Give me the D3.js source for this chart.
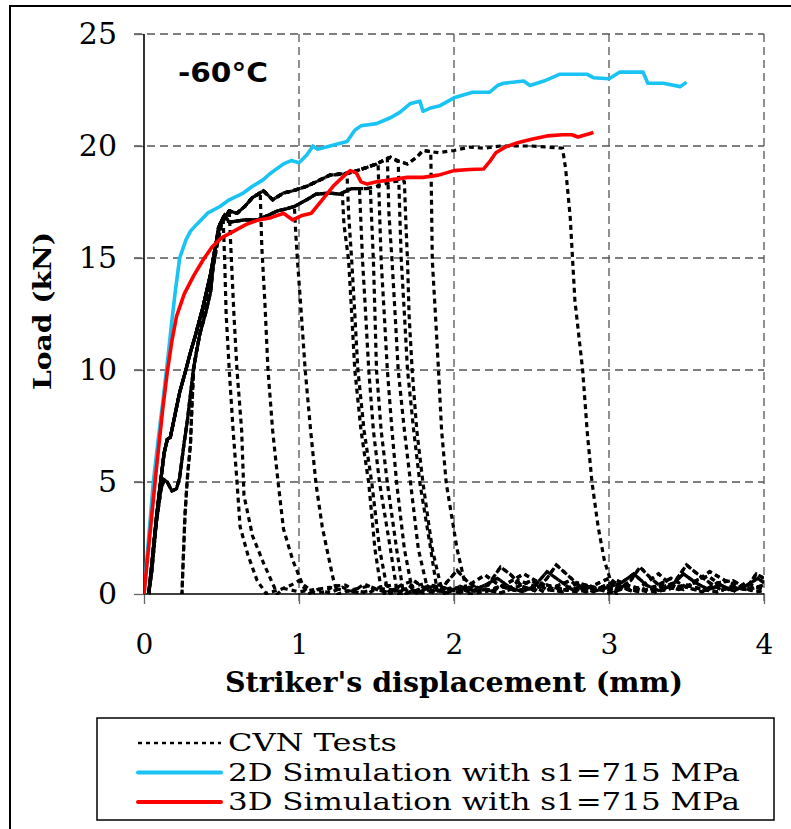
<!DOCTYPE html>
<html>
<head>
<meta charset="utf-8">
<script src="https://cdn.jsdelivr.net/npm/d3@7"></script>
<style>
  body { margin: 0; background: #fff; }
  svg { display: block; }
</style>
</head>
<body>
<div id="chart"></div>
<script>
// axis ticks
const xTicks = [0, 1, 2, 3, 4];
const yTicks = [0, 5, 10, 15, 20, 25];

// 2D and 3D simulations (mm, kN)
const sim2D = [[0,0],[0.03,2.5],[0.06,5.0],[0.09,6.8],[0.12,8.5],[0.15,10.3],[0.18,12.2],[0.2,13.4],[0.23,15.0],[0.27,15.8],[0.3,16.2],[0.34,16.5],[0.41,17.0],[0.49,17.3],[0.55,17.6],[0.64,17.9],[0.7,18.2],[0.77,18.5],[0.81,18.75],[0.86,19.0],[0.9,19.2],[0.95,19.35],[1.0,19.25],[1.05,19.6],[1.09,20.0],[1.12,19.85],[1.2,20.0],[1.31,20.2],[1.36,20.7],[1.4,20.9],[1.5,21.0],[1.59,21.26],[1.65,21.5],[1.72,21.9],[1.78,22.0],[1.8,21.55],[1.85,21.7],[1.91,21.8],[2.0,22.15],[2.12,22.4],[2.23,22.4],[2.28,22.7],[2.32,22.8],[2.45,22.9],[2.49,22.7],[2.58,22.9],[2.68,23.2],[2.86,23.2],[2.9,23.05],[3.0,23.0],[3.07,23.3],[3.22,23.3],[3.25,22.8],[3.35,22.8],[3.46,22.65],[3.5,22.85]];
const sim3D = [[0,0],[0.04,2.8],[0.08,5.6],[0.12,8.2],[0.15,9.9],[0.18,11.3],[0.21,12.4],[0.26,13.4],[0.32,14.2],[0.38,14.9],[0.44,15.5],[0.5,15.9],[0.58,16.2],[0.66,16.5],[0.74,16.7],[0.82,16.8],[0.9,17.0],[0.96,16.7],[1.02,16.9],[1.08,17.0],[1.15,17.6],[1.22,18.2],[1.28,18.6],[1.33,18.9],[1.37,18.8],[1.4,18.4],[1.44,18.3],[1.5,18.4],[1.6,18.5],[1.7,18.6],[1.8,18.6],[1.9,18.7],[2.0,18.9],[2.1,18.95],[2.19,18.97],[2.23,19.3],[2.27,19.7],[2.33,19.95],[2.41,20.15],[2.5,20.3],[2.6,20.45],[2.7,20.5],[2.76,20.5],[2.8,20.4],[2.85,20.5],[2.9,20.6]];

// CVN test pieces: rising parts, plateau bands, residual tails
const riseA = [[0.03,0],[0.05,1.3],[0.08,3.4],[0.1,4.6],[0.13,6.3],[0.15,6.9],[0.17,7.0],[0.2,8.0],[0.23,9.0],[0.27,10.0],[0.3,10.8],[0.33,11.5],[0.38,12.8],[0.43,14.3],[0.46,15.5],[0.49,16.5],[0.52,16.9]];
const riseB = [[0.03,0],[0.05,1.0],[0.08,3.2],[0.11,4.7],[0.13,5.1],[0.15,5.0],[0.18,4.6],[0.21,4.7],[0.23,5.2],[0.26,6.8],[0.28,7.75],[0.32,10.1],[0.36,11.6],[0.4,12.6],[0.43,13.5],[0.45,14.9],[0.48,16.35],[0.51,16.8]];
const riseC = [[0.245,0],[0.25,1.0],[0.265,3.6],[0.28,5.2],[0.3,6.7],[0.31,8.5],[0.32,10.0],[0.34,10.9],[0.38,12.3],[0.43,14.0],[0.47,15.5],[0.5,16.5],[0.53,16.9]];
const upperBand = [[0.53,16.9],[0.55,17.1],[0.6,17.0],[0.65,17.3],[0.7,17.7],[0.77,18.0],[0.83,17.6],[0.9,17.9],[0.96,18.0],[1.05,18.2],[1.11,18.4],[1.2,18.7],[1.33,18.8],[1.44,19.05],[1.5,19.2],[1.59,19.5],[1.65,19.3],[1.7,19.2],[1.76,19.5],[1.8,19.8],[1.9,19.7],[2.0,19.8],[2.1,19.95],[2.2,19.9],[2.3,20.0],[2.5,20.0],[2.7,19.95]];
const lowerBand = [[0.55,16.6],[0.65,16.7],[0.73,16.7],[0.8,16.9],[0.86,17.1],[0.92,17.2],[0.97,17.3],[1.05,17.6],[1.11,17.85],[1.2,17.9],[1.26,17.85],[1.34,18.1],[1.44,18.1],[1.5,18.2],[1.55,18.3],[1.6,18.4],[1.67,18.45],[1.72,18.3],[1.78,18.6],[1.82,19.2],[1.85,19.6]];
const tailA = [[0.8,0.05],[0.88,0.2],[0.95,0.4],[1.0,0.6],[1.04,0.35],[1.1,0.05],[1.17,0.1],[1.22,0.35],[1.3,0.4],[1.36,0.15],[1.45,0.05],[1.52,0.3],[1.6,0.4],[1.68,0.2],[1.76,0.05],[1.85,0.3],[1.95,0.5],[2.02,1.05],[2.08,0.6],[2.15,0.25],[2.22,0.4],[2.3,1.2],[2.36,0.9],[2.44,0.35],[2.52,0.15],[2.6,0.7],[2.66,1.3],[2.74,0.8],[2.82,0.3],[2.9,0.1],[2.98,0.4],[3.06,0.2],[3.14,0.6],[3.2,1.2],[3.27,0.7],[3.34,0.3],[3.42,0.5],[3.5,1.3],[3.57,0.9],[3.65,0.5],[3.72,0.2],[3.8,0.3],[3.88,0.2],[3.95,0.9],[4.0,0.7]];
const tailB = [[0.85,0.1],[0.92,0.05],[0.98,0.2],[1.05,0.1],[1.12,0.2],[1.2,0.05],[1.28,0.3],[1.35,0.1],[1.42,0.45],[1.5,0.2],[1.58,0.05],[1.66,0.4],[1.74,0.6],[1.8,0.3],[1.88,0.1],[1.96,0.2],[2.05,0.05],[2.12,0.5],[2.2,0.85],[2.27,0.5],[2.35,0.2],[2.42,0.6],[2.5,0.4],[2.58,0.1],[2.66,0.35],[2.75,0.6],[2.83,0.2],[2.92,0.45],[3.0,0.7],[3.08,0.3],[3.16,0.1],[3.24,0.5],[3.32,0.9],[3.4,0.4],[3.48,0.2],[3.56,0.6],[3.64,0.8],[3.72,0.4],[3.8,0.1],[3.88,0.5],[3.96,0.3],[4.0,0.2]];
const tailC = [[0.8,0.0],[0.9,0.05],[1.0,0.15],[1.1,0.0],[1.2,0.1],[1.3,0.0],[1.4,0.2],[1.5,0.05],[1.6,0.1],[1.7,0.25],[1.8,0.05],[1.9,0.15],[2.0,0.3],[2.1,0.1],[2.2,0.2],[2.3,0.05],[2.4,0.3],[2.5,0.6],[2.6,0.2],[2.7,0.1],[2.8,0.5],[2.9,0.3],[3.0,0.05],[3.1,0.25],[3.2,0.1],[3.3,0.35],[3.4,0.7],[3.5,0.3],[3.6,0.1],[3.7,0.5],[3.8,0.6],[3.9,0.2],[4.0,0.4]];
const tailD = [[0.8,0.02],[0.95,0.1],[1.05,0.25],[1.15,0.1],[1.25,0.0],[1.35,0.2],[1.45,0.35],[1.55,0.1],[1.65,0.0],[1.75,0.15],[1.85,0.4],[1.95,0.2],[2.05,0.1],[2.15,0.3],[2.25,0.15],[2.35,0.5],[2.45,0.9],[2.55,0.5],[2.65,0.2],[2.75,0.3],[2.85,0.1],[2.95,0.3],[3.05,0.6],[3.15,0.3],[3.25,0.1],[3.35,0.4],[3.45,0.2],[3.55,0.5],[3.65,1.0],[3.75,0.6],[3.85,0.3],[3.95,0.1],[4.0,0.15]];
const tailE = [[0.8,0.1],[0.86,0.3],[0.92,0.15],[1.0,0.05],[1.08,0.3],[1.16,0.5],[1.24,0.2],[1.32,0.05],[1.4,0.3],[1.48,0.15],[1.56,0.4],[1.64,0.1],[1.72,0.3],[1.8,0.45],[1.88,0.2],[1.96,0.05],[2.04,0.35],[2.12,0.15],[2.2,0.4],[2.28,0.7],[2.36,0.3],[2.44,0.1],[2.52,0.35],[2.6,1.0],[2.68,0.6],[2.76,0.2],[2.84,0.4],[2.92,0.15],[3.0,0.3],[3.08,0.5],[3.16,0.9],[3.24,0.4],[3.32,0.15],[3.4,0.35],[3.48,0.9],[3.56,0.5],[3.64,0.2],[3.72,0.4],[3.8,0.15],[3.88,0.35],[3.96,0.7],[4.0,0.5]];
const tailF = [[0.8,0.15],[0.9,0.25],[1.0,0.1],[1.1,0.2],[1.2,0.3],[1.3,0.15],[1.4,0.05],[1.5,0.25],[1.6,0.2],[1.7,0.05],[1.8,0.2],[1.9,0.35],[2.0,0.15],[2.1,0.3],[2.2,0.1],[2.3,0.35],[2.4,0.15],[2.5,0.25],[2.6,0.4],[2.7,0.2],[2.8,0.1],[2.9,0.3],[3.0,0.2],[3.1,0.4],[3.2,0.25],[3.3,0.1],[3.4,0.25],[3.5,0.4],[3.6,0.2],[3.7,0.1],[3.8,0.35],[3.9,0.25],[4.0,0.3]];

// each test: which rise / band / tail it follows, and its fracture drop
const cvnTests = [
  { rise: riseA, band: upperBand, tail: tailA, drop: [[0.51,16.8],[0.52,15.0],[0.53,12.5],[0.55,10.0],[0.575,7.3],[0.6,5.0],[0.62,3.0],[0.67,1.75],[0.73,0.6],[0.79,0]] },
  { rise: riseB, band: upperBand, tail: tailF, drop: [[0.55,17.1],[0.56,15.5],[0.58,12.5],[0.6,10],[0.63,7.3],[0.645,4.4],[0.7,2.6],[0.77,1.4],[0.86,0]] },
  { rise: riseA, band: upperBand, tail: tailB, drop: [[0.75,17.9],[0.76,15.5],[0.78,13],[0.8,10],[0.83,7.3],[0.865,5.0],[0.9,2.9],[0.96,1.5],[1.03,0.3],[1.06,0]] },
  { rise: riseB, band: lowerBand, tail: tailD, drop: [[0.97,17.3],[0.98,16],[0.99,14.9],[1.015,12.5],[1.04,10],[1.075,7.3],[1.11,4.9],[1.15,3],[1.18,2],[1.22,0.7],[1.25,0]] },
  { rise: riseA, band: lowerBand, tail: tailE, drop: [[1.28,17.85],[1.29,16.5],[1.32,14.9],[1.34,12.5],[1.36,10],[1.4,7.3],[1.45,4.95],[1.49,2.0],[1.53,0.2],[1.55,0]] },
  { rise: riseC, band: upperBand, tail: tailC, drop: [[1.31,18.75],[1.32,17],[1.34,14.9],[1.36,12.5],[1.38,10],[1.42,7.3],[1.47,4.95],[1.52,2.0],[1.57,0.2],[1.59,0]] },
  { rise: riseA, band: lowerBand, tail: tailF, drop: [[1.39,18.1],[1.4,16.5],[1.41,14.9],[1.43,12.5],[1.45,10],[1.48,7.3],[1.52,4.95],[1.59,2.0],[1.63,0.2],[1.65,0]] },
  { rise: riseB, band: lowerBand, tail: tailB, drop: [[1.46,18.15],[1.47,16.5],[1.48,14.9],[1.49,12.5],[1.5,10],[1.53,7.3],[1.57,4.95],[1.63,2.0],[1.67,0.2],[1.69,0]] },
  { rise: riseA, band: upperBand, tail: tailD, drop: [[1.51,19.25],[1.52,17],[1.53,14.9],[1.55,12.5],[1.57,10],[1.6,7.3],[1.63,4.95],[1.68,2.0],[1.73,0.2],[1.75,0]] },
  { rise: riseA, band: upperBand, tail: tailE, drop: [[1.57,19.45],[1.58,17],[1.6,14.9],[1.62,12.5],[1.64,10],[1.68,7.3],[1.72,4.95],[1.77,2.0],[1.83,0.2],[1.85,0]] },
  { rise: riseB, band: upperBand, tail: tailA, drop: [[1.64,19.3],[1.65,17],[1.66,14.9],[1.68,12.5],[1.7,10],[1.74,7.3],[1.78,4.95],[1.85,2.0],[1.89,0.2],[1.91,0]] },
  { rise: riseA, band: lowerBand, tail: tailC, drop: [[1.68,18.4],[1.69,16.5],[1.7,14.9],[1.71,12.5],[1.73,10],[1.76,7.3],[1.8,4.95],[1.86,2.0],[1.92,0.2],[1.94,0]] },
  { rise: riseC, band: upperBand, tail: tailF, drop: [[1.85,19.75],[1.855,17.5],[1.86,14.9],[1.88,12.5],[1.9,10],[1.92,7.3],[1.95,4.95],[2.02,2.0],[2.08,0.2],[2.1,0]] },
  { rise: riseA, band: upperBand, tail: tailE, drop: [[2.7,19.9],[2.72,19.0],[2.75,16.8],[2.78,13.1],[2.83,10.0],[2.86,7.2],[2.89,5.0],[2.93,3.0],[2.97,1.5],[3.01,0.6],[3.03,0.2],[3.05,0]] }
];

const legendItems = [
  { label: "CVN Tests", color: "#000", width: 2.5, dash: "4,4" },
  { label: "2D Simulation with s1=715 MPa", color: "#19c3f3", width: 4, dash: null },
  { label: "3D Simulation with s1=715 MPa", color: "#ff0000", width: 4, dash: null }
];

const W = 791, H = 829;
const svg = d3.select("#chart").append("svg").attr("width", W).attr("height", H);

const x = d3.scaleLinear().domain([0, 4]).range([144, 764]);
const y = d3.scaleLinear().domain([0, 25]).range([594, 34]);

// outer frame (left and top only)
svg.append("path").attr("d", `M10,829 L10,6 L791,6`)
  .attr("fill", "none").attr("stroke", "#000").attr("stroke-width", 2);

// grid
const grid = svg.append("g").attr("stroke", "#555").attr("stroke-width", 1.3)
  .attr("stroke-dasharray", "8,5");
grid.selectAll(".gy").data(yTicks.filter(d => d > 0)).join("line")
  .attr("x1", x(0) - 10).attr("x2", x(4))
  .attr("y1", d => y(d)).attr("y2", d => y(d));
grid.selectAll(".gx").data(xTicks.filter(d => d > 0)).join("line")
  .attr("x1", d => x(d)).attr("x2", d => x(d))
  .attr("y1", y(25)).attr("y2", y(0) + 10);

// axes (labels + outer ticks)
const yAxis = svg.append("g").attr("transform", `translate(${x(0)},0)`)
  .call(d3.axisLeft(y).tickValues(yTicks).tickFormat(d3.format("d")).tickSize(10).tickPadding(17));
const xAxis = svg.append("g").attr("transform", `translate(0,${y(0)})`)
  .call(d3.axisBottom(x).tickValues(xTicks).tickFormat(d3.format("d")).tickSize(10).tickPadding(30));
[yAxis, xAxis].forEach(a => {
  a.select(".domain").remove();
  a.selectAll(".tick line").attr("stroke", "#666").attr("stroke-width", 1.3);
  a.selectAll("text").attr("fill", "#000").style("font-family", "DejaVu Serif, serif");
});
yAxis.selectAll("text").style("font-size", "30px");
xAxis.selectAll("text").style("font-size", "28px");

// axis lines
svg.append("line").attr("x1", x(0)).attr("x2", x(0)).attr("y1", y(25)).attr("y2", y(0))
  .attr("stroke", "#000").attr("stroke-width", 1.6);
svg.append("line").attr("x1", x(0)).attr("x2", x(4)).attr("y1", y(0)).attr("y2", y(0))
  .attr("stroke", "#000").attr("stroke-width", 1.6);

// clip to plot area
svg.append("clipPath").attr("id", "plot")
  .append("rect").attr("x", x(0)).attr("y", y(25) - 5).attr("width", x(4) - x(0)).attr("height", y(0) - y(25) + 6);

const line = d3.line().x(d => x(d[0])).y(d => y(d[1]));
const plot = svg.append("g").attr("clip-path", "url(#plot)");

function buildTest(t) {
  const start = t.drop[0][0];
  const end = t.drop[t.drop.length - 1][0];
  const riseEnd = t.rise[t.rise.length - 1][0];
  return [
    ...t.rise.filter(p => p[0] < start),
    ...t.band.filter(p => p[0] > riseEnd && p[0] < start),
    ...t.drop,
    ...t.tail.filter(p => p[0] > end)
  ];
}

plot.selectAll(".cvn").data(cvnTests.map(buildTest)).join("path")
  .attr("class", "cvn")
  .attr("d", line)
  .attr("fill", "none")
  .attr("stroke", "#000")
  .attr("stroke-width", 3.2)
  .attr("stroke-dasharray", "5,4")
  .attr("stroke-dashoffset", (d, i) => i * 2.3);

plot.append("path").datum(sim2D).attr("d", line)
  .attr("fill", "none").attr("stroke", "#19c3f3").attr("stroke-width", 3.6)
  .attr("stroke-linejoin", "round");
plot.append("path").datum(sim3D).attr("d", line)
  .attr("fill", "none").attr("stroke", "#ff0000").attr("stroke-width", 3.6)
  .attr("stroke-linejoin", "round");

// temperature label
svg.append("text").attr("x", 178).attr("y", 82)
  .attr("textLength", 90).attr("lengthAdjust", "spacingAndGlyphs")
  .style("font-family", "DejaVu Sans, sans-serif").style("font-weight", "bold")
  .style("font-size", "27px").text("-60°C");

// axis titles
svg.append("text").attr("x", 225).attr("y", 692)
  .attr("textLength", 458).attr("lengthAdjust", "spacingAndGlyphs")
  .style("font-family", "DejaVu Serif, serif").style("font-weight", "bold")
  .style("font-size", "27px").text("Striker's displacement (mm)");
svg.append("text").attr("transform", "translate(51,311) rotate(-90)")
  .attr("text-anchor", "middle")
  .attr("textLength", 158).attr("lengthAdjust", "spacingAndGlyphs")
  .style("font-family", "DejaVu Serif, serif").style("font-weight", "bold")
  .style("font-size", "25px").text("Load (kN)");

// legend
const lg = svg.append("g");
lg.append("rect").attr("x", 97).attr("y", 718).attr("width", 677).attr("height", 102)
  .attr("fill", "#fff").attr("stroke", "#000").attr("stroke-width", 1.5);
const rows = lg.selectAll(".row").data(legendItems).join("g")
  .attr("transform", (d, i) => `translate(0,${743 + i * 29.5})`);
rows.append("line").attr("x1", 138).attr("x2", 221)
  .attr("stroke", d => d.color).attr("stroke-width", d => d.width)
  .attr("stroke-dasharray", d => d.dash).attr("stroke-linecap", d => d.dash ? "butt" : "round");
rows.append("text").attr("x", 228).attr("y", 8)
  .attr("textLength", (d, i) => i === 0 ? 169 : 512).attr("lengthAdjust", "spacingAndGlyphs")
  .style("font-family", "DejaVu Serif, serif").style("font-size", "25px")
  .text(d => d.label);
</script>
</body>
</html>
